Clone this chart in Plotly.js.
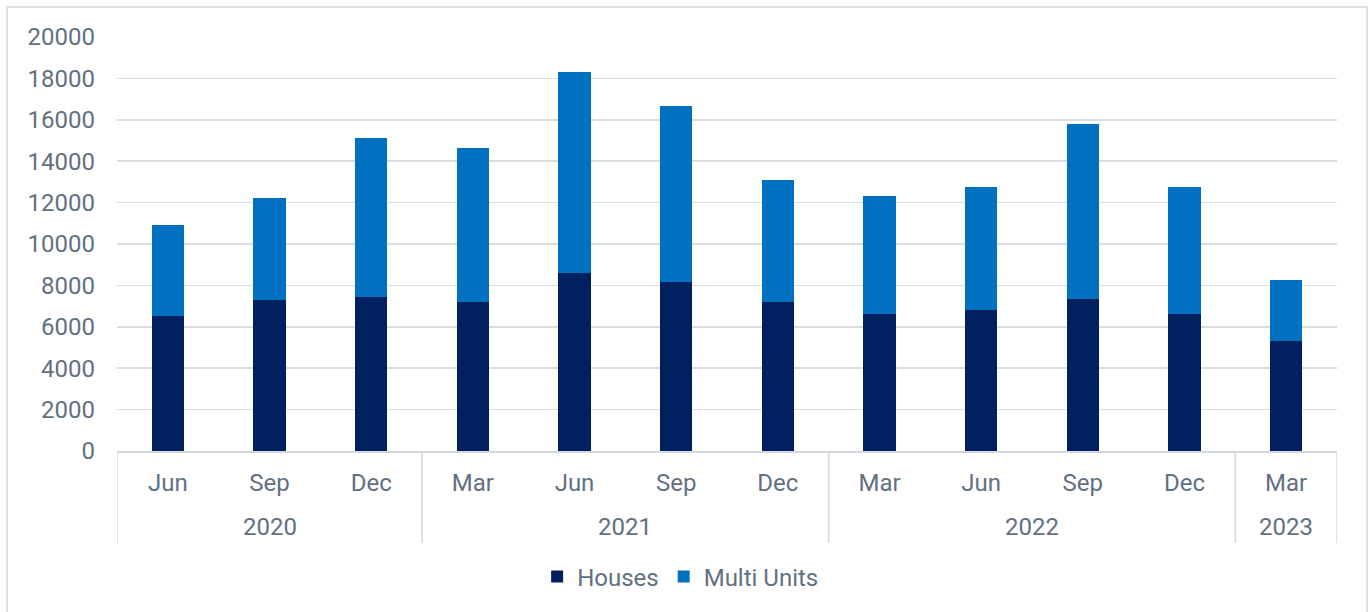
<!DOCTYPE html>
<html>
<head>
<meta charset="utf-8">
<script src="https://cdn.plot.ly/plotly-3.0.1.min.js"></script>
<style>
  html, body { margin: 0; padding: 0; background: #fff; }
  #wrap { position: relative; width: 1372px; height: 612px; overflow: hidden; }
  #chart { width: 1372px; height: 612px; }
  #frame { position: absolute; left: 6px; top: 6px; width: 1358px; height: 620px; border: 2px solid #dcdfe3; pointer-events: none; }
</style>
</head>
<body>
<div id="wrap">
  <div id="chart"></div>
  <div id="frame"></div>
</div>
<script>
const years  = ["2020","2020","2020","2021","2021","2021","2021","2022","2022","2022","2022","2023"];
const months = ["Jun","Sep","Dec","Mar","Jun","Sep","Dec","Mar","Jun","Sep","Dec","Mar"];
const houses = [6500, 7300, 7450, 7200, 8600, 8150, 7200, 6600, 6800, 7350, 6600, 5300];
const totals = [10900, 12200, 15100, 14650, 18300, 16650, 13100, 12300, 12750, 15800, 12750, 8250];
const multiUnits = totals.map((t, i) => t - houses[i]);

const keys = months.map((m, i) => m + " " + years[i]);

const textColor = "#627181";
const lineColor = "#d3d8dd";
const fontFam = "Roboto, 'Noto Sans', sans-serif";
const fsize = 24;

const traces = [
  { type: "bar", name: "Houses", x: keys, y: houses,
    marker: { color: "#002060" } },
  { type: "bar", name: "Multi Units", x: keys, y: multiUnits,
    marker: { color: "#0070c0" } }
];

// year groups: dividers and centred labels derived from the years array
const shapes = [];
const annotations = [];
let start = 0;
for (let i = 1; i <= years.length; i++) {
  if (i === years.length || years[i] !== years[start]) {
    annotations.push({
      xref: "x", yref: "paper", x: (start + i - 1) / 2, y: -0.1836,
      text: years[start], showarrow: false, xanchor: "center", yanchor: "middle",
      font: { family: fontFam, size: fsize, color: textColor }
    });
    start = i;
  }
}
const bounds = [-0.5];
for (let i = 1; i < years.length; i++) if (years[i] !== years[i - 1]) bounds.push(i - 0.5);
bounds.push(years.length - 0.5);
bounds.forEach(b => shapes.push({
  type: "line", xref: "x", yref: "paper", x0: b, x1: b, y0: 0, y1: -0.2222,
  line: { color: lineColor, width: 1.5 }
}));

const layout = {
  width: 1372, height: 612,
  barmode: "stack",
  bargap: 0.685,
  margin: { l: 117, r: 35, t: 37, b: 161 },
  paper_bgcolor: "rgba(0,0,0,0)",
  plot_bgcolor: "#fff",
  font: { family: fontFam, size: fsize, color: textColor },
  xaxis: {
    type: "category",
    tickmode: "array", tickvals: keys, ticktext: months,
    showline: true, linecolor: lineColor, linewidth: 1.5,
    ticks: "", showgrid: false, ticklabelstandoff: 10,
    range: [-0.5, keys.length - 0.5],
    tickfont: { family: fontFam, size: fsize, color: textColor }
  },
  yaxis: {
    range: [0, 20000], dtick: 2000,
    showgrid: true, gridcolor: "#d9dde2", gridwidth: 1.5,
    zeroline: false, showline: false, ticks: "",
    tickformat: "d", ticklabelstandoff: 21,
    tickfont: { family: fontFam, size: fsize, color: textColor }
  },
  shapes: shapes,
  annotations: annotations,
  legend: {
    orientation: "h", x: 0.462, xanchor: "center", y: -0.304, yanchor: "middle",
    font: { family: fontFam, size: fsize, color: textColor },
    traceorder: "normal", itemwidth: 30
  },
  showlegend: true
};

Plotly.newPlot("chart", traces, layout, { displayModeBar: false, staticPlot: true });
</script>
</body>
</html>
